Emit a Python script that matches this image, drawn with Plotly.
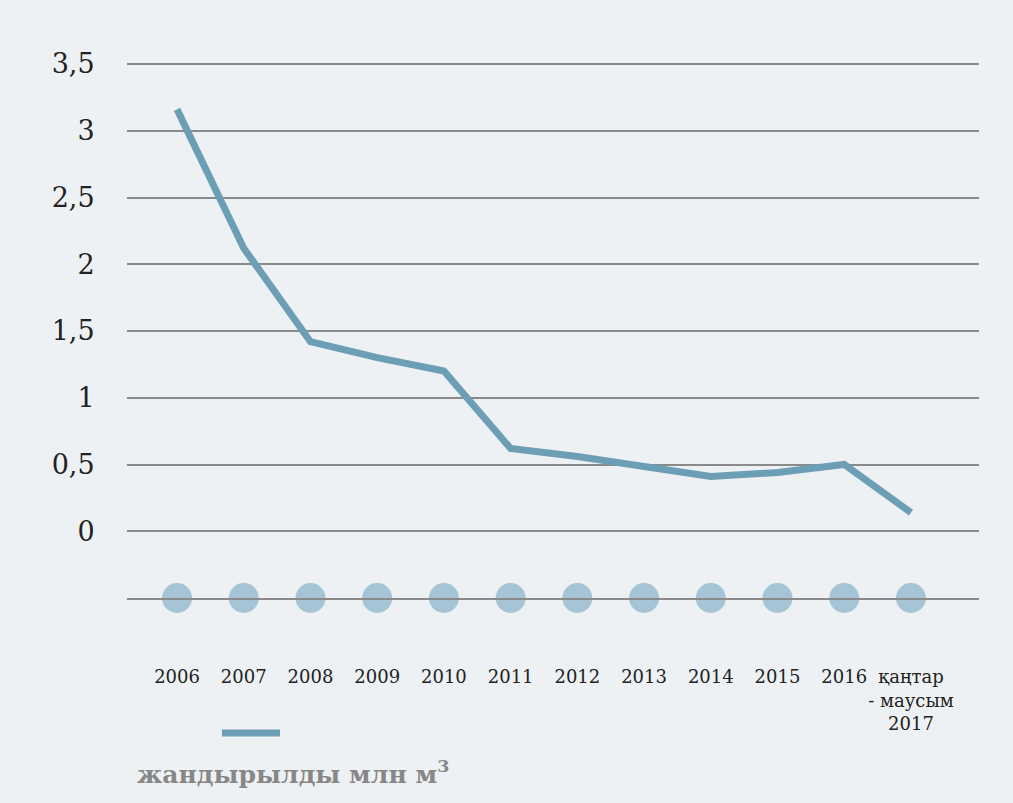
import plotly.graph_objects as go

categories = ["2006", "2007", "2008", "2009", "2010", "2011", "2012", "2013",
              "2014", "2015", "2016", "қаңтар<br>- маусым<br>2017"]
values = [3.16, 2.12, 1.42, 1.30, 1.20, 0.62, 0.56, 0.49, 0.41, 0.44, 0.50, 0.14]
y_tickvals = [0, 0.5, 1, 1.5, 2, 2.5, 3, 3.5]
y_ticktext = ["0", "0,5", "1", "1,5", "2", "2,5", "3", "3,5"]
series_name = "жандырылды млн м<sup>3</sup>"

dot_level = [-0.5] * len(categories)

fig = go.Figure()
fig.add_trace(go.Scatter(
    x=categories, y=dot_level, mode="markers",
    marker=dict(size=30, color="rgba(140,180,204,0.75)", line=dict(width=0)),
    cliponaxis=False, showlegend=False, hoverinfo="skip"))
fig.add_trace(go.Scatter(
    x=categories, y=values, mode="lines",
    line=dict(color="#6c9fb5", width=7),
    name=series_name, showlegend=False, cliponaxis=False))

H = 803 - 60 - 205
fig.add_shape(type="line", xref="paper", yref="paper",
              x0=(222 - 127) / 852, x1=(280 - 127) / 852,
              y0=(598 - 733) / H, y1=(598 - 733) / H,
              line=dict(color="#6c9fb5", width=7))
fig.add_annotation(text="<b>" + series_name + "</b>", xref="paper", yref="paper",
                   x=(135 - 127) / 852, y=(598 - 772) / H,
                   xanchor="left", yanchor="middle", showarrow=False,
                   font=dict(family="DejaVu Serif", size=25, color="#878787"))

fig.update_layout(
    width=1013, height=803,
    margin=dict(l=127, r=34, t=60, b=205),
    paper_bgcolor="#eef1f3", plot_bgcolor="#eef1f3",
    font=dict(family="DejaVu Serif", color="#222222"),
    xaxis=dict(type="category", range=[-0.75, 12.02], showgrid=False,
               showline=True, linecolor="#8a8a8a", linewidth=1.5,
               zeroline=False, ticks="outside", ticklen=62, tickangle=0,
               tickcolor="rgba(0,0,0,0)", tickfont=dict(size=18, color="#222222")),
    yaxis=dict(range=[-0.5, 3.53], tickvals=y_tickvals, ticktext=y_ticktext,
               showgrid=True, gridcolor="#8a8a8a", gridwidth=1.5,
               zeroline=False, showline=False, ticks="outside", ticklen=26,
               tickcolor="rgba(0,0,0,0)", tickfont=dict(size=27, color="#222222")),
)

fig.write_html("out.html")
